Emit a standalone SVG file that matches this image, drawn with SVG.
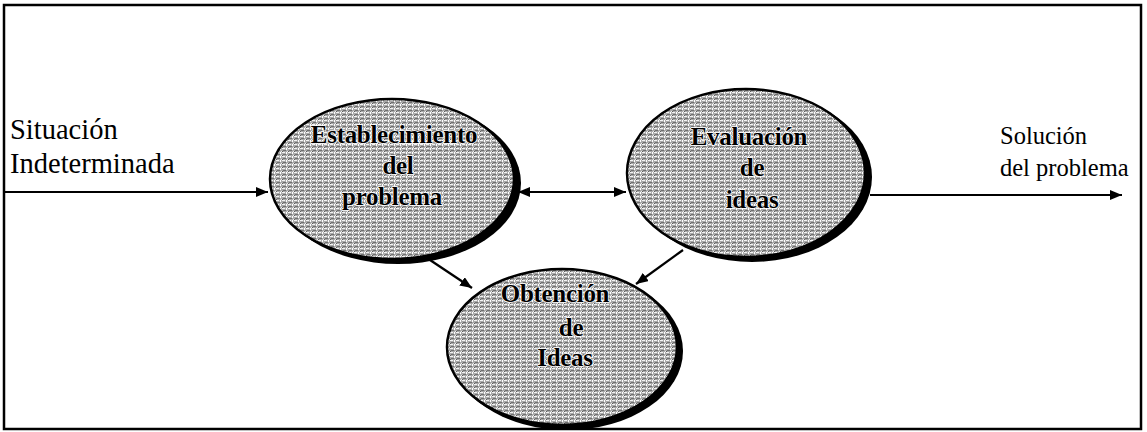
<svg xmlns="http://www.w3.org/2000/svg" width="1147" height="432" viewBox="0 0 1147 432">
<defs>
<pattern id="tex" width="6" height="4" patternUnits="userSpaceOnUse">
<rect width="6" height="4" fill="#aaaaaa"/>
<rect x="0" y="0" width="3" height="1" fill="#f4f4f4"/>
<rect x="4" y="0" width="1" height="2" fill="#ffffff"/>
<rect x="1" y="2" width="3" height="1" fill="#707070"/>
<rect x="5" y="3" width="1" height="1" fill="#eeeeee"/>
<rect x="0" y="3" width="1" height="1" fill="#5a5a5a"/>
</pattern>
<marker id="ah" viewBox="0 0 12 10" refX="12" refY="5" markerWidth="12" markerHeight="10" markerUnits="userSpaceOnUse" orient="auto-start-reverse">
<path d="M0,0 L12,5 L0,10 Z" fill="#000"/>
</marker>
</defs>
<style>
.lbl{font-family:"Liberation Serif","DejaVu Serif","Noto Serif",serif;fill:#000}
.nt{font-family:"Liberation Serif","DejaVu Serif","Noto Serif",serif;font-size:25px;font-weight:bold;fill:#000;stroke:#fff;stroke-width:1.5px;paint-order:stroke;text-anchor:middle;letter-spacing:-0.3px}
.sh{fill:#000}
.el{fill:url(#tex);stroke:#000;stroke-width:2.5}
.cn{stroke:#000;stroke-width:2.2;fill:none}
</style>
<rect id="frame" x="4" y="5" width="1137" height="424" fill="none" stroke="#000" stroke-width="2.5"/>
<g id="connectors">
<line class="cn" x1="4" y1="192" x2="268" y2="192" marker-end="url(#ah)"/>
<line class="cn" x1="518" y1="192" x2="626" y2="192" marker-start="url(#ah)" marker-end="url(#ah)"/>
<line class="cn" x1="870" y1="195" x2="1122" y2="195" marker-end="url(#ah)"/>
<line class="cn" x1="427" y1="258" x2="472" y2="288" marker-end="url(#ah)"/>
<line class="cn" x1="683" y1="250" x2="636" y2="284" marker-end="url(#ah)"/>
</g>
<g id="label-situacion">
<text class="lbl" x="10" y="139" font-size="28.5">Situación</text>
<text class="lbl" x="10" y="173" font-size="28.5">Indeterminada</text>
</g>
<g id="label-solucion">
<text class="lbl" x="1000" y="144" font-size="24.5">Solución</text>
<text class="lbl" x="1000" y="176" font-size="24.5">del problema</text>
</g>
<g id="node-establecimiento">
<ellipse class="sh" cx="398" cy="183" rx="123" ry="81"/>
<ellipse class="el" cx="392" cy="179" rx="122" ry="80"/>
<text class="nt" x="394" y="143">Establecimiento</text>
<text class="nt" x="398" y="174">del</text>
<text class="nt" x="392" y="205">problema</text>
</g>
<g id="node-evaluacion">
<ellipse class="sh" cx="752" cy="177" rx="120" ry="85"/>
<ellipse class="el" cx="746" cy="173" rx="119" ry="84"/>
<text class="nt" x="749" y="145">Evaluación</text>
<text class="nt" x="752" y="176">de</text>
<text class="nt" x="752" y="208">ideas</text>
</g>
<g id="node-obtencion">
<ellipse class="sh" cx="567" cy="351" rx="116" ry="79"/>
<ellipse class="el" cx="562" cy="347" rx="115" ry="78"/>
<text class="nt" x="555" y="302">Obtención</text>
<text class="nt" x="571" y="336">de</text>
<text class="nt" x="565" y="366">Ideas</text>
</g>
</svg>
